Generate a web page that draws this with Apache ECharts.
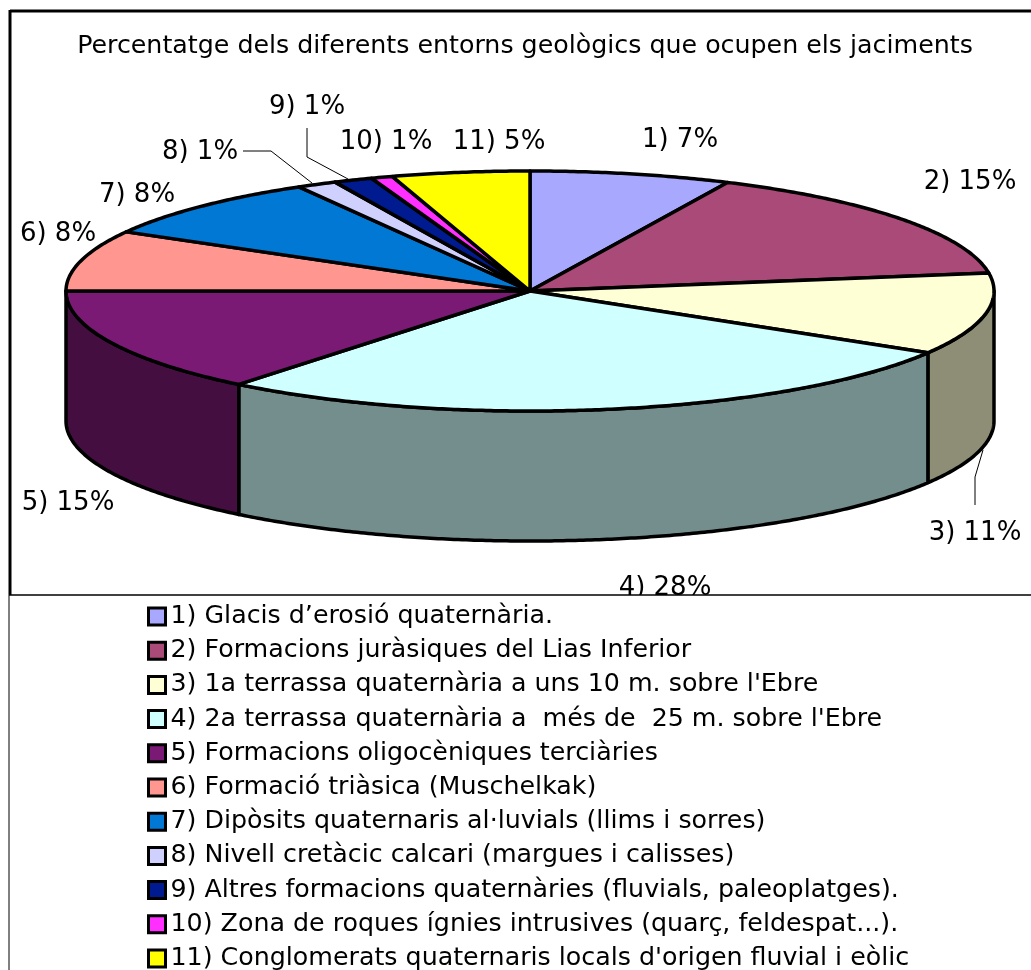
<!DOCTYPE html>
<html>
<head>
<meta charset="utf-8">
<title>Entorns geològics</title>
<script src="https://cdn.jsdelivr.net/npm/echarts@6/dist/echarts.min.js"></script>
<style>
  html, body { margin: 0; padding: 0; background: #fff; }
  #chart { width: 1031px; height: 970px; }
</style>
</head>
<body>
<div id="chart"></div>
<script>
const chartTitle = 'Percentatge dels diferents entorns geològics que ocupen els jaciments'

const legendNames = [
  '1) Glacis d’erosió quaternària.',
  '2) Formacions juràsiques del Lias Inferior',
  "3) 1a terrassa quaternària a uns 10 m. sobre l'Ebre",
  "4) 2a terrassa quaternària a  més de  25 m. sobre l'Ebre",
  '5) Formacions oligocèniques terciàries',
  '6) Formació triàsica (Muschelkak)',
  '7) Dipòsits quaternaris al·luvials (llims i sorres)',
  '8) Nivell cretàcic calcari (margues i calisses)',
  '9) Altres formacions quaternàries (fluvials, paleoplatges).',
  '10) Zona de roques ígnies intrusives (quarç, feldespat...).',
  "11) Conglomerats quaternaris locals d'origen fluvial i eòlic"
]
const sliceLabels = ['1) 7%', '2) 15%', '3) 11%', '4) 28%', '5) 15%', '6) 8%', '7) 8%', '8) 1%', '9) 1%', '10) 1%', '11) 5%']
// the printed labels are rounded
const sliceValues = [7, 15.6, 11, 27.2, 14.2, 8.2, 8.5, 1.4, 1.35, 0.75, 4.8]
const sliceColors = ['#A8A8FF', '#A94A78', '#FFFFD6', '#D0FFFF', '#7B1A75', '#FF9690', '#0078D4', '#D0D0FF', '#001A90', '#FF30FF', '#FFFF00']

// layout of the tilted pie, in px
const cx = 530, cy = 291, rx = 464, ry = 120, depth = 130
const labelAt = [[680, 140], [970, 182], [975, 533], [665, 588], [68, 503], [58, 234], [137, 195], [200, 152], [307, 107], [386, 142], [499, 142]]
const leaders = {
  2: [[975, 505], [975, 477], [983, 450]],
  7: [[243, 151], [271, 151], [312, 183]],
  8: [[307, 128], [307, 157], [348, 179]]
}
const fontFamily = '"DejaVu Sans", sans-serif'

const total = sliceValues.reduce((a, b) => a + b, 0)
let running = 0
const sliceRanges = sliceValues.map(v => {
  const range = [running / total * 360, (running + v) / total * 360]
  running += v
  return range
})

function rim(deg, drop) {
  const t = deg * Math.PI / 180
  return [cx + rx * Math.sin(t), cy - ry * Math.cos(t) + drop]
}

function arc(from, to, drop) {
  const pts = []
  const steps = Math.max(2, Math.ceil((to - from) * 2))
  for (let i = 0; i <= steps; i++) pts.push(rim(from + (to - from) * i / steps, drop))
  return pts
}

function darker(hex) {
  const c = echarts.color.parse(hex)
  return `rgb(${c[0] * 0.56 | 0},${c[1] * 0.56 | 0},${c[2] * 0.56 | 0})`
}

function renderSlice(index) {
  return function (params, api) {
    const from = api.value(0), to = api.value(1)
    const children = []
    // only the front half of the rim is visible
    const a = Math.max(from, 90), b = Math.min(to, 270)
    if (a < b) {
      children.push({
        type: 'polygon',
        z2: 1,
        shape: { points: arc(a, b, 0).concat(arc(a, b, depth).reverse()) },
        style: { fill: darker(sliceColors[index]), stroke: '#000', lineWidth: 3.5, lineJoin: 'round' }
      })
    }
    children.push({
      type: 'polygon',
      z2: 2,
      shape: { points: [[cx, cy]].concat(arc(from, to, 0)) },
      style: { fill: sliceColors[index], stroke: '#000', lineWidth: 3.5, lineJoin: 'round' }
    })
    if (leaders[index]) {
      children.push({
        type: 'polyline',
        z2: 3,
        shape: { points: leaders[index] },
        style: { fill: 'none', stroke: '#000', lineWidth: 1 }
      })
    }
    children.push({
      type: 'text',
      z2: 3,
      style: {
        x: labelAt[index][0], y: labelAt[index][1], text: sliceLabels[index],
        font: '26px ' + fontFamily, fill: '#000', align: 'center', verticalAlign: 'middle'
      }
    })
    return { type: 'group', children }
  }
}

const chart = echarts.init(document.getElementById('chart'))
chart.setOption({
  animation: false,
  title: {
    text: chartTitle,
    left: 520,
    top: 26,
    textAlign: 'center',
    textStyle: { fontFamily, fontSize: 25.3, fontWeight: 'normal', color: '#000', lineHeight: 30 }
  },
  legend: {
    orient: 'vertical',
    left: 147,
    top: 604,
    height: 500,
    padding: 0,
    itemWidth: 17,
    itemHeight: 17,
    itemGap: 9.2,
    selectedMode: false,
    z: 20,
    textStyle: { fontFamily, fontSize: 25.3, color: '#000', lineHeight: 25 },
    data: legendNames.map((name, i) => ({
      name,
      icon: 'rect',
      itemStyle: { color: sliceColors[i], borderColor: '#000', borderWidth: 3 }
    }))
  },
  graphic: [
    { type: 'rect', z: 10, shape: { x: 0, y: 595, width: 1031, height: 375 }, style: { fill: '#fff' } },
    { type: 'line', z: 11, shape: { x1: 10, y1: 11, x2: 1031, y2: 11 }, style: { stroke: '#000', lineWidth: 3 } },
    { type: 'line', z: 11, shape: { x1: 10, y1: 10, x2: 10, y2: 595 }, style: { stroke: '#000', lineWidth: 3 } },
    { type: 'line', z: 11, shape: { x1: 9, y1: 595, x2: 1031, y2: 595 }, style: { stroke: '#000', lineWidth: 1.5 } },
    { type: 'line', z: 11, shape: { x1: 9, y1: 595, x2: 9, y2: 970 }, style: { stroke: '#000', lineWidth: 1 } }
  ],
  series: legendNames.map((name, i) => ({
    type: 'custom',
    name,
    coordinateSystem: 'none',
    silent: true,
    renderItem: renderSlice(i),
    data: [sliceRanges[i]]
  }))
})
</script>
</body>
</html>
